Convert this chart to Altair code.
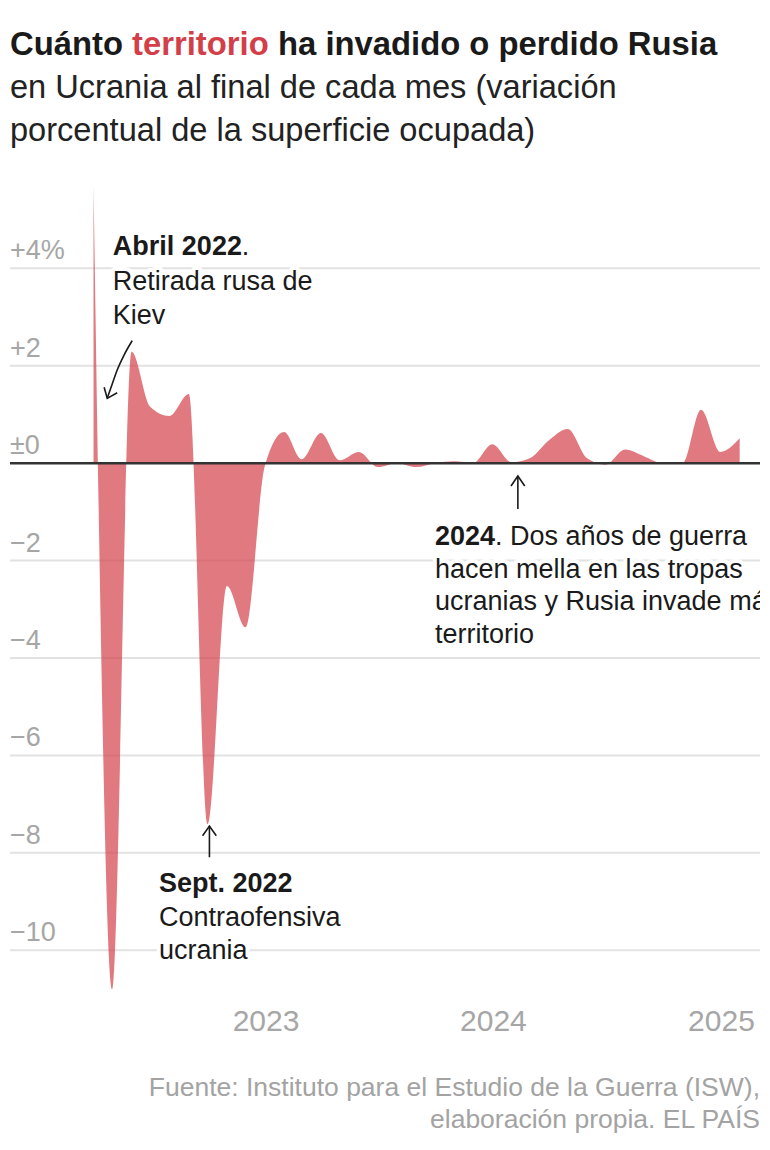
import altair as alt
import pandas as pd
from datetime import datetime, timezone

# ------------------------------------------------------------------ data
month_ends = [
    "2022-03-31", "2022-04-30", "2022-05-31", "2022-06-30", "2022-07-31", "2022-08-31",
    "2022-09-30", "2022-10-31", "2022-11-30", "2022-12-31",
    "2023-01-31", "2023-02-28", "2023-03-31", "2023-04-30", "2023-05-31", "2023-06-30",
    "2023-07-31", "2023-08-31", "2023-09-30", "2023-10-31", "2023-11-30", "2023-12-31",
    "2024-01-31", "2024-02-29", "2024-03-31", "2024-04-30", "2024-05-31", "2024-06-30",
    "2024-07-31", "2024-08-31", "2024-09-30", "2024-10-31", "2024-11-30", "2024-12-31",
    "2025-01-31",
]
pct_change = [
    5.7, -10.8, 2.29, 1.16, 0.97, 1.42,
    -7.41, -2.52, -3.37, -0.05,
    0.64, 0.08, 0.62, 0.06, 0.23, -0.08,
    0.0, -0.08, 0.0, 0.04, 0.0, 0.39,
    0.02, 0.10, 0.47, 0.70, 0.10, -0.03,
    0.28, 0.14, 0.0, 0.0, 1.10, 0.23,
    0.51,
]

grid_values = [4, 2, -2, -4, -6, -8, -10]
tick_values = [4, 2, 0, -2, -4, -6, -8, -10]
tick_labels = ["+4%", "+2", "±0", "−2", "−4", "−6", "−8", "−10"]
year_ticks = [2023, 2024, 2025]

title_parts = ["Cuánto", "territorio", "ha invadido o perdido Rusia"]
subtitle_lines = ["en Ucrania al final de cada mes (variación",
                  "porcentual de la superficie ocupada)"]
source_lines = ["Fuente: Instituto para el Estudio de la Guerra (ISW),",
                "elaboración propia. EL PAÍS"]

# annotation texts, anchored in data coordinates (date, value)
ann_dates = ["2022-05-01", "2022-05-01", "2022-05-01", "2022-05-01",
             "2022-07-14", "2022-07-14", "2022-07-14",
             "2023-09-30", "2023-09-30", "2023-09-30", "2023-09-30", "2023-09-30"]
ann_values = [4.27, 4.27, 3.556, 2.868,
              -8.80, -9.50, -10.18,
              -1.68, -1.68, -2.351, -3.014, -3.685]
ann_texts = ["Abril 2022", ".", "Retirada rusa de", "Kiev",
             "Sept. 2022", "Contraofensiva", "ucrania",
             "2024", ". Dos años de guerra", "hacen mella en las tropas",
             "ucranias y Rusia invade más", "territorio"]
ann_bold = [True, False, False, False,
            True, False, False,
            True, False, False, False, False]
ann_shift = [0, 129, 0, 0,
             0, 0, 0,
             0, 60, 0, 0, 0]

# arrows (shafts and heads), in data coordinates
shaft_ids = ["abril"] * 5 + ["sept"] * 2 + ["y2024"] * 2
shaft_dates = ["2022-04-22", "2022-04-30", "2022-05-08", "2022-05-19", "2022-06-01",
               "2022-10-03", "2022-10-03",
               "2024-02-10", "2024-02-10"]
shaft_values = [1.332, 1.626, 1.914, 2.221, 2.515,
                -7.45, -8.09,
                -0.263, -0.94]
head_ids = ["abril"] * 3 + ["sept"] * 3 + ["y2024"] * 3
head_dates = ["2022-04-17", "2022-04-22", "2022-05-08",
              "2022-09-22", "2022-10-03", "2022-10-14",
              "2024-01-30", "2024-02-10", "2024-02-21"]
head_values = [1.558, 1.332, 1.447,
               -7.65, -7.45, -7.65,
               -0.468, -0.263, -0.468]
head_order = [0, 1, 2] * 3

# ------------------------------------------------------------------ layout
W, H = 750, 811
Y_MIN, Y_MAX = -11.0, 5.65
DAY = 86400000.0
base = datetime(2023, 1, 1, tzinfo=timezone.utc).timestamp() * 1000
X_DOMAIN = [base - 410.05 * DAY, base + 793.6 * DAY]

FONT = "Liberation Sans, Arial, Helvetica, sans-serif"
INK = "#1a1a1a"
RED = "#d23f49"
GREY = "#a6a6a6"

xscale = alt.Scale(type="utc", domain=X_DOMAIN)
yscale = alt.Scale(domain=[Y_MIN, Y_MAX], nice=False, zero=False)
xaxis = alt.Axis(
    values=[alt.DateTime(year=y, month=1, date=1, utc=True) for y in year_ticks],
    labelExpr="utcFormat(datum.value, '%Y')",
    grid=False, domain=False, ticks=False, tickSize=0,
    labelFontSize=30, labelColor=GREY, labelFont=FONT, labelPadding=7,
    labelFlush=False, labelOverlap=False, title=None,
)


def X(field="date"):
    return alt.X(f"{field}:T", scale=xscale, axis=xaxis)


def Y(field="value"):
    return alt.Y(f"{field}:Q", scale=yscale, axis=None)


layers = []

# gridlines
layers.append(
    alt.Chart(pd.DataFrame({"v": grid_values}))
    .mark_rule(color="#e2e2e2", strokeWidth=2)
    .encode(y=Y("v"))
)

# area
df = pd.DataFrame({"date": month_ends, "value": pct_change})
layers.append(
    alt.Chart(df)
    .mark_area(interpolate="monotone", color="#d4404a", opacity=0.7, clip=True)
    .encode(x=X(), y=Y(), y2=alt.datum(0))
)

# zero line
layers.append(
    alt.Chart(pd.DataFrame({"v": [0]}))
    .mark_rule(color="#333333", strokeWidth=2.5)
    .encode(y=Y("v"))
)

# y tick labels
layers.append(
    alt.Chart(pd.DataFrame({"v": tick_values, "label": tick_labels}))
    .mark_text(align="left", baseline="alphabetic", dy=-9, fontSize=27,
               font=FONT, color=GREY)
    .encode(x=alt.value(0), y=Y("v"), text="label:N")
)

# arrows
shafts = pd.DataFrame({"id": shaft_ids, "date": shaft_dates, "value": shaft_values})
layers.append(
    alt.Chart(shafts)
    .mark_line(interpolate="monotone", color=INK, strokeWidth=1.6)
    .encode(x=X(), y=Y(), detail="id:N")
)
heads = pd.DataFrame({"id": head_ids, "date": head_dates, "value": head_values,
                      "o": head_order})
layers.append(
    alt.Chart(heads)
    .mark_line(color=INK, strokeWidth=1.6)
    .encode(x=X(), y=Y(), detail="id:N", order="o:Q")
)

# annotations (white halo, then ink)
ann = pd.DataFrame({"date": ann_dates, "value": ann_values, "text": ann_texts,
                    "bold": ann_bold, "shift": ann_shift})
for halo in (True, False):
    for (b, s), sub in ann.groupby(["bold", "shift"]):
        kw = dict(align="left", baseline="alphabetic", fontSize=27, font=FONT,
                  fontWeight="bold" if b else "normal", dx=int(s), clip=True)
        if halo:
            kw.update(color="white", stroke="white", strokeWidth=8, strokeJoin="round")
        else:
            kw.update(color=INK)
        layers.append(
            alt.Chart(sub.reset_index(drop=True))
            .mark_text(**kw)
            .encode(x=X(), y=Y(), text="text:N")
        )

# title
title_x = [0, 122, 268]
title_col = [INK, RED, INK]
for part, px, col in zip(title_parts, title_x, title_col):
    layers.append(
        alt.Chart(pd.DataFrame({"t": [part]}))
        .mark_text(align="left", baseline="alphabetic", fontSize=32.8, fontWeight="bold",
                   font=FONT, color=col)
        .encode(x=alt.value(px), y=alt.value(-133), text="t:N")
    )
for line, py in zip(subtitle_lines, [-90, -47]):
    layers.append(
        alt.Chart(pd.DataFrame({"t": [line]}))
        .mark_text(align="left", baseline="alphabetic", fontSize=32.6,
                   font=FONT, color="#222222")
        .encode(x=alt.value(0), y=alt.value(py), text="t:N")
    )
for line, py in zip(source_lines, [908, 940]):
    layers.append(
        alt.Chart(pd.DataFrame({"t": [line]}))
        .mark_text(align="right", baseline="alphabetic", fontSize=26.5,
                   font=FONT, color="#a3a3a3")
        .encode(x=alt.value(W), y=alt.value(py), text="t:N")
    )

chart = (
    alt.layer(*layers)
    .properties(
        width=W, height=H,
        autosize=alt.AutoSizeParams(type="none"),
        padding={"left": 2, "top": 180, "right": 2, "bottom": 140},
    )
    .configure_view(strokeWidth=0)
)

chart.save("out.html", embed_options={"renderer": "svg", "actions": False})
